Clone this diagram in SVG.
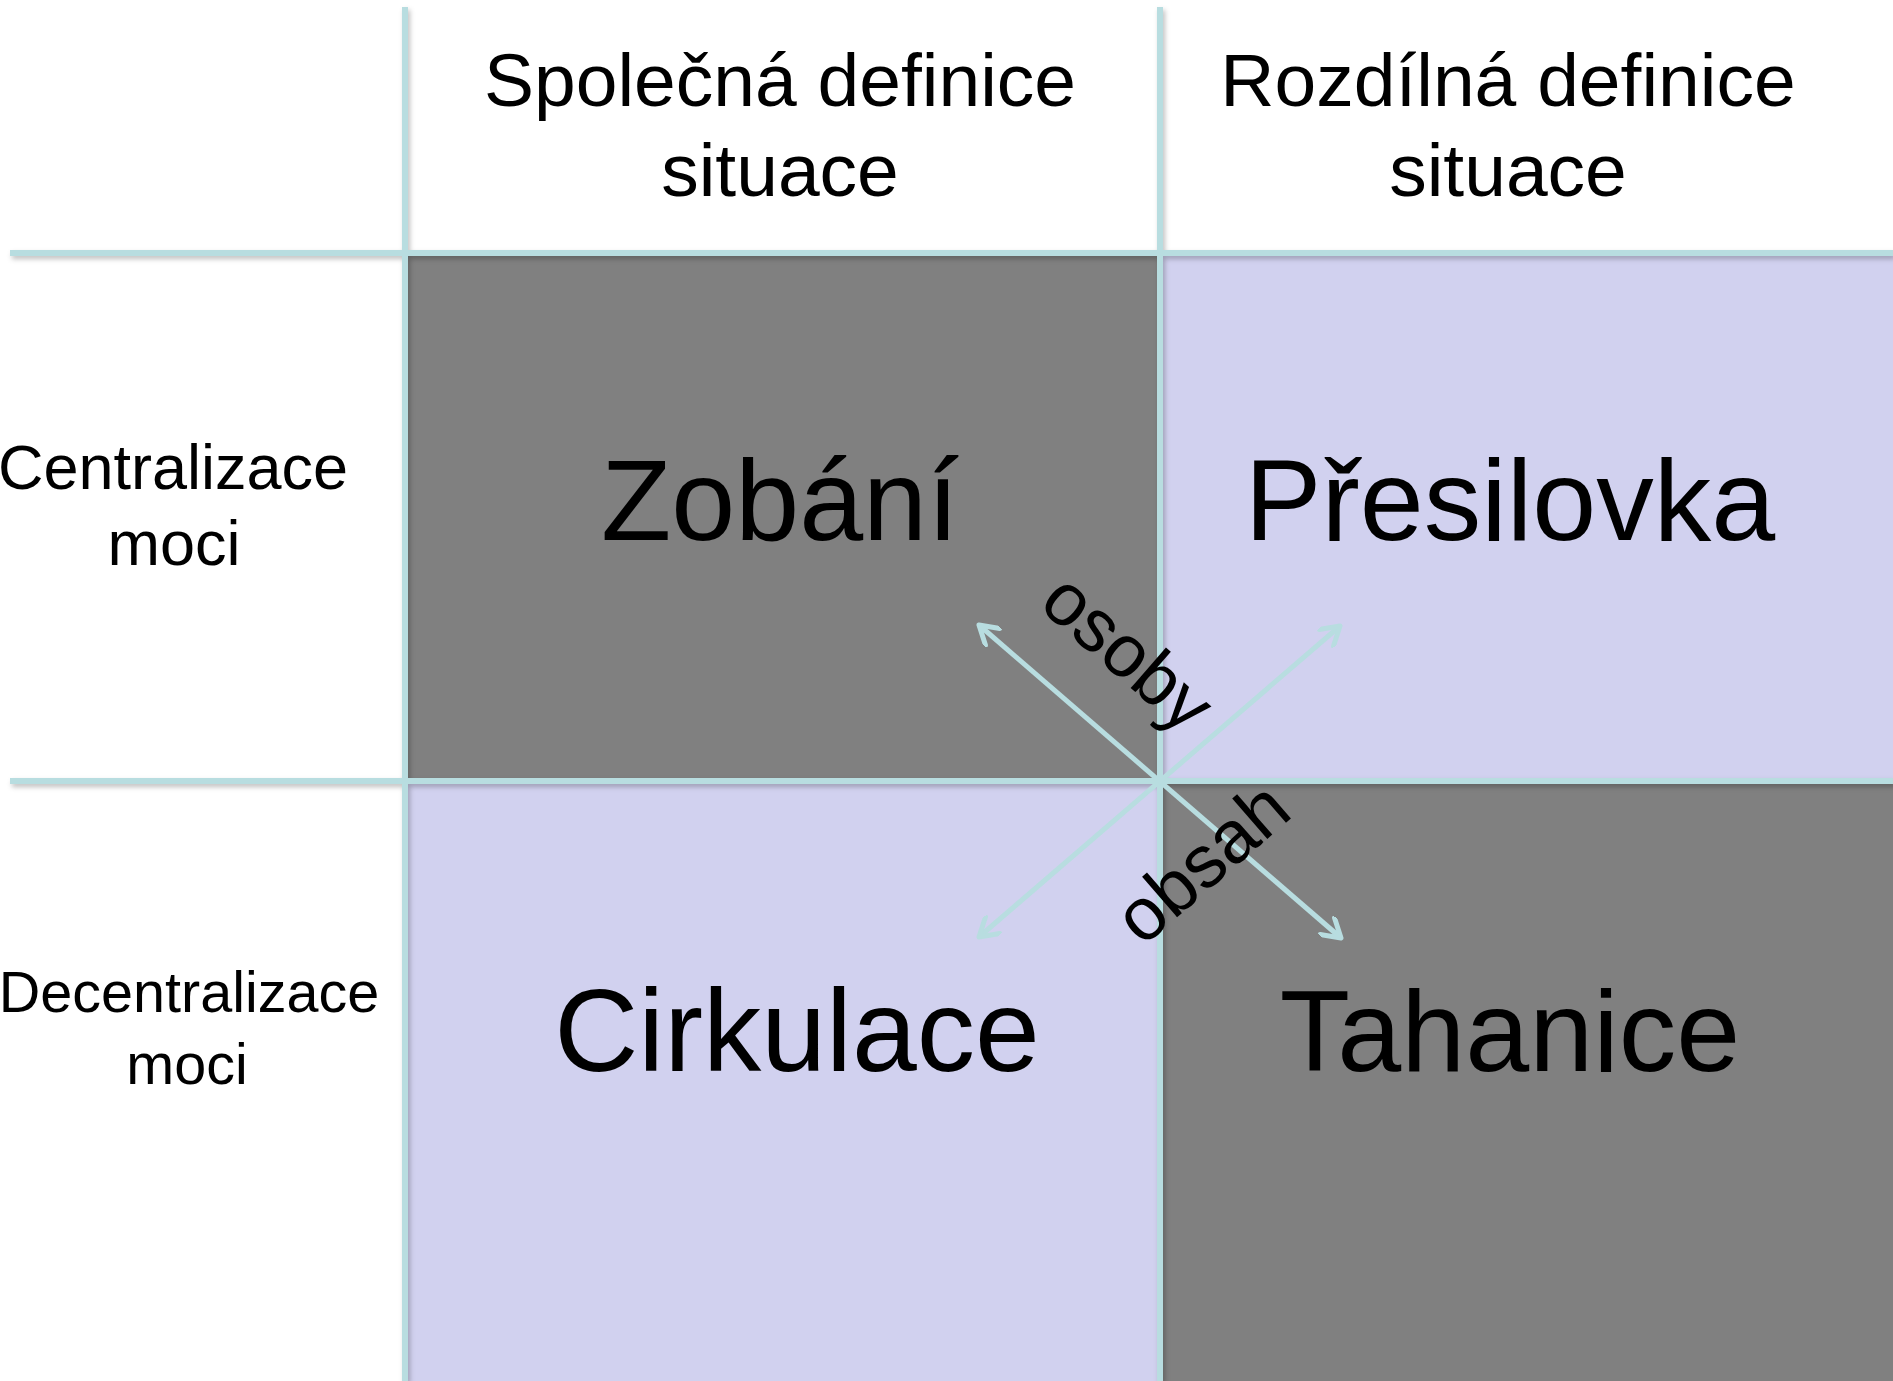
<svg xmlns="http://www.w3.org/2000/svg" width="1893" height="1381" viewBox="0 0 1893 1381">
  <defs>
    <filter id="sh" x="-5%" y="-5%" width="110%" height="110%">
      <feDropShadow dx="2" dy="3" stdDeviation="2.5" flood-color="#000" flood-opacity="0.25"/>
    </filter>
    <marker id="ah" viewBox="0 0 24 24" refX="21" refY="12" markerWidth="24" markerHeight="24" markerUnits="userSpaceOnUse" orient="auto-start-reverse">
      <path d="M3,1 L21,12 L3,23" fill="none" stroke="#B8DDE0" stroke-width="5" stroke-linecap="round" stroke-linejoin="round"/>
    </marker>
    <style>
      .t { font-family: "Liberation Sans", Arial, sans-serif; fill: #000; text-anchor: middle; }
      .hdr { font-size: 75px; }
      .row { font-size: 63px; }
      .row2 { font-size: 57.5px; }
      .big { font-size: 115px; }
      .grid { stroke: #B8DDE0; stroke-width: 6; fill: none; }
      .dark { fill: #808080; }
      .light { fill: #D1D1EF; }
      .arrow { stroke: #B8DDE0; stroke-width: 5; fill: none; marker-start: url(#ah); marker-end: url(#ah); }
    </style>
  </defs>
  <rect x="0" y="0" width="1893" height="1381" fill="#fff"/>

  <g id="cells">
    <rect id="cell-zobani" class="dark" x="405" y="253" width="755" height="528"/>
    <rect id="cell-presilovka" class="light" x="1160" y="253" width="733" height="528"/>
    <rect id="cell-cirkulace" class="light" x="405" y="781" width="755" height="600"/>
    <rect id="cell-tahanice" class="dark" x="1160" y="781" width="733" height="600"/>
  </g>

  <g id="grid" filter="url(#sh)">
    <line class="grid" x1="405" y1="7" x2="405" y2="1381"/>
    <line class="grid" x1="1160" y1="7" x2="1160" y2="1381"/>
    <line class="grid" x1="10" y1="253" x2="1893" y2="253"/>
    <line class="grid" x1="10" y1="781" x2="1893" y2="781"/>
  </g>

  <g id="header-spolecna">
    <text class="t hdr" x="780" y="106">Společná definice</text>
    <text class="t hdr" x="780" y="196">situace</text>
  </g>
  <g id="header-rozdilna">
    <text class="t hdr" x="1508" y="106">Rozdílná definice</text>
    <text class="t hdr" x="1508" y="196">situace</text>
  </g>
  <g id="row-centralizace">
    <text class="t row" x="173" y="489">Centralizace</text>
    <text class="t row" x="174" y="565">moci</text>
  </g>
  <g id="row-decentralizace">
    <text class="t row2" x="189" y="1012">Decentralizace</text>
    <text class="t row2" x="187" y="1084">moci</text>
  </g>

  <g id="node-zobani"><text class="t big" x="780" y="540">Zobání</text></g>
  <g id="node-presilovka"><text class="t big" x="1510" y="540">Přesilovka</text></g>
  <g id="node-cirkulace"><text class="t big" style="font-size:116.5px" x="797" y="1071">Cirkulace</text></g>
  <g id="node-tahanice"><text class="t big" x="1510" y="1071">Tahanice</text></g>

  <g id="connectors">
    <line class="arrow" x1="979" y1="625" x2="1341" y2="938"/>
    <line class="arrow" x1="979" y1="937" x2="1340" y2="626"/>
  </g>

  <g id="label-osoby">
    <text class="t" style="font-size:74px" transform="translate(1124,657) rotate(41)" x="0" y="19">osoby</text>
  </g>
  <g id="label-obsah">
    <text class="t" style="font-size:74px" transform="translate(1206,867) rotate(-41)" x="0" y="19">obsah</text>
  </g>
</svg>
